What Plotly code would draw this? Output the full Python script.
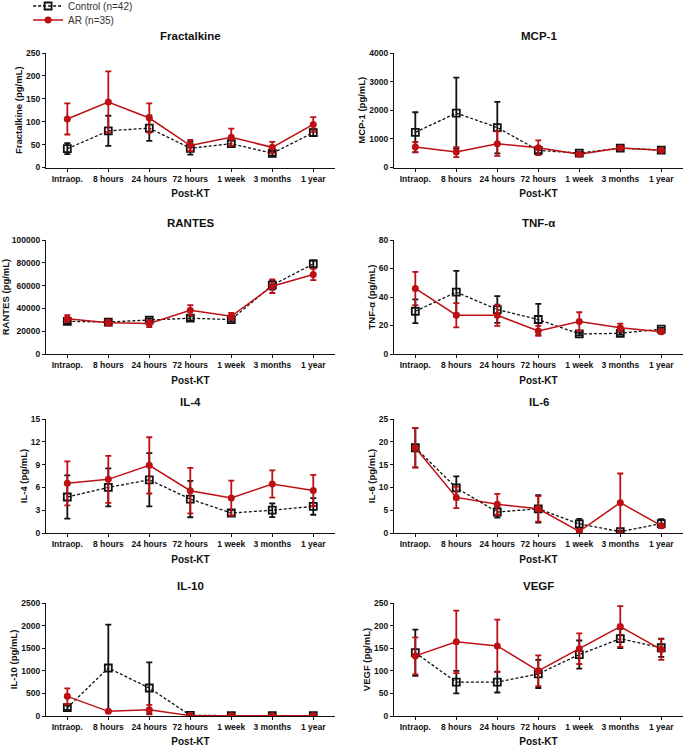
import plotly.graph_objects as go

categories = ["Intraop.", "8 hours", "24 hours", "72 hours", "1 week", "3 months", "1 year"]

panel_titles = ["Fractalkine", "MCP-1", "RANTES", "TNF-α", "IL-4", "IL-6", "IL-10", "VEGF"]
y_titles = ["Fractalkine (pg/mL)", "MCP-1 (pg/mL)", "RANTES (pg/mL)", "TNF-α (pg/mL)",
            "IL-4 (pg/mL)", "IL-6 (pg/mL)", "IL-10 (pg/mL)", "VEGF (pg/mL)"]
y_max = [250, 4000, 100000, 80, 15, 25, 2500, 250]
y_dtick = [50, 1000, 20000, 20, 3, 5, 500, 50]

control_mean = [
    [41, 80, 86, 42, 52, 31, 76],
    [1230, 1900, 1396, 600, 505, 680, 610],
    [28700, 28000, 29800, 31400, 30200, 60400, 79000],
    [30, 43.4, 31.2, 24.2, 14.1, 14.5, 17.4],
    [4.74, 6.0, 7.0, 4.47, 2.63, 3.0, 3.5],
    [18.7, 9.9, 4.6, 5.3, 2.0, 0.3, 2.05],
    [184, 1062, 620, 15, 8, 5, 5],
    [140, 75, 75, 93, 136, 171, 151],
]
control_err = [
    [12, 33, 28, 14, 7, 5, 7],
    [700, 1240, 900, 100, 50, 50, 50],
    [2000, 1500, 1500, 2000, 1500, 4000, 3000],
    [8.3, 15, 9.4, 11, 1, 1, 1],
    [2.85, 2.5, 3.5, 2.4, 0.4, 0.9, 1.1],
    [4.3, 2.5, 1.2, 3.0, 1.1, 0.2, 1.0],
    [50, 960, 565, 10, 5, 3, 3],
    [51, 25, 23, 31, 31, 21, 20],
]
ar_mean = [
    [106, 143, 108, 48, 66, 44, 94],
    [715, 540, 833, 690, 460, 680, 600],
    [31000, 27500, 26700, 38400, 33100, 59500, 69800],
    [46, 27.2, 27.2, 16.2, 22.8, 18.5, 15.7],
    [6.53, 7.06, 8.9, 5.57, 4.6, 6.45, 5.6],
    [18.7, 7.8, 6.3, 5.3, 0.37, 6.65, 1.6],
    [435, 103, 140, 8, 7, 5, 5],
    [133, 164, 155, 100, 149, 198, 147],
]
ar_err = [
    [34, 67, 32, 12, 19, 12, 16],
    [175, 175, 430, 260, 40, 50, 50],
    [3000, 2500, 3000, 4500, 3000, 6000, 5000],
    [11.7, 8.5, 7.5, 3.5, 6.5, 2.8, 1.5],
    [2.9, 3.1, 3.7, 3.0, 2.3, 1.8, 2.05],
    [4.35, 2.35, 2.3, 2.8, 0.2, 6.4, 0.4],
    [175, 20, 105, 5, 4, 3, 3],
    [41, 69, 58, 34, 34, 45, 23],
]

RED = "#BC1014"
BLACK = "#111111"
W, H = 685, 747

x_doms = [[46 / W, 335 / W], [394 / W, 683 / W]]
rows_px = [(53, 167.5), (240, 354), (419, 533), (603, 716)]
y_doms = [[1 - b / H, 1 - t / H] for (t, b) in rows_px]

fig = go.Figure()
layout = {}
annotations = []
font_fam = "Liberation Sans, Arial, sans-serif"

for i in range(8):
    r, c = divmod(i, 2)
    n = i + 1
    xa = "x" if n == 1 else f"x{n}"
    ya = "y" if n == 1 else f"y{n}"
    fig.add_trace(go.Scatter(
        x=list(range(7)), y=control_mean[i], xaxis=xa, yaxis=ya,
        mode="lines+markers", name="Control (n=42)", showlegend=(i == 0), legend="legend",
        line=dict(color=BLACK, width=1.3, dash="3px,2px"),
        marker=dict(symbol="square-open", size=7, color=BLACK, line=dict(width=1.8, color=BLACK)),
        error_y=dict(type="data", array=control_err[i], visible=True, color=BLACK, thickness=1.8, width=3),
    ))
    fig.add_trace(go.Scatter(
        x=list(range(7)), y=ar_mean[i], xaxis=xa, yaxis=ya,
        mode="lines+markers", name="AR (n=35)", showlegend=(i == 0), legend="legend2",
        line=dict(color=RED, width=1.5),
        marker=dict(symbol="circle", size=7, color=RED),
        error_y=dict(type="data", array=ar_err[i], visible=True, color=RED, thickness=1.8, width=3),
    ))
    axis_common = dict(showline=True, linecolor=BLACK, linewidth=1.3, ticks="outside",
                       tickcolor=BLACK, ticklen=3, tickwidth=1.2, showgrid=False, zeroline=False,
                       automargin=False,
                       tickfont=dict(family=font_fam, size=8.5, color=BLACK))
    vals = [k * y_dtick[i] for k in range(int(y_max[i] / y_dtick[i]) + 1)]
    layout["xaxis" if n == 1 else f"xaxis{n}"] = dict(
        axis_common, domain=x_doms[c], anchor=ya, range=[-0.52, 6.53],
        tickmode="array", tickvals=list(range(7)), ticktext=[f"<b>{t}</b>" for t in categories],
        title=dict(text="<b>Post-KT</b>", font=dict(family=font_fam, size=10, color=BLACK), standoff=7),
    )
    layout["yaxis" if n == 1 else f"yaxis{n}"] = dict(
        axis_common, domain=y_doms[r], anchor=xa, range=[0, y_max[i]],
        tickmode="array", tickvals=vals, ticktext=[f"<b>{int(v) if float(v).is_integer() else v}</b>" for v in vals],
        title=dict(text=f"<b>{y_titles[i]}</b>", font=dict(family=font_fam, size=9.5, color=BLACK), standoff=1),
    )
    annotations.append(dict(
        text=f"<b>{panel_titles[i]}</b>", xref="paper", yref="paper",
        x=(x_doms[c][0] + x_doms[c][1]) / 2, y=y_doms[r][1] + 17 / H,
        xanchor="center", yanchor="middle", showarrow=False,
        font=dict(family=font_fam, size=11.5, color=BLACK),
    ))

leg_common = dict(xanchor="left", yanchor="middle",
                  font=dict(family=font_fam, size=10, color="#333333"),
                  itemwidth=30, bgcolor="rgba(0,0,0,0)", borderwidth=0)

fig.update_layout(
    **layout,
    annotations=annotations,
    width=W, height=H,
    margin=dict(l=0, r=0, t=0, b=0, autoexpand=False),
    paper_bgcolor="white", plot_bgcolor="white",
    showlegend=True,
    legend=dict(leg_common, x=0.041, y=1 - 6 / H),
    legend2=dict(leg_common, x=0.041, y=1 - 20 / H),
)

fig.write_html("out.html", config={"displayModeBar": False},
               default_width="685px; position:absolute; left:0; top:0",
               default_height="747px",
               post_script="document.body.style.margin='0';document.body.style.overflow='hidden';")
